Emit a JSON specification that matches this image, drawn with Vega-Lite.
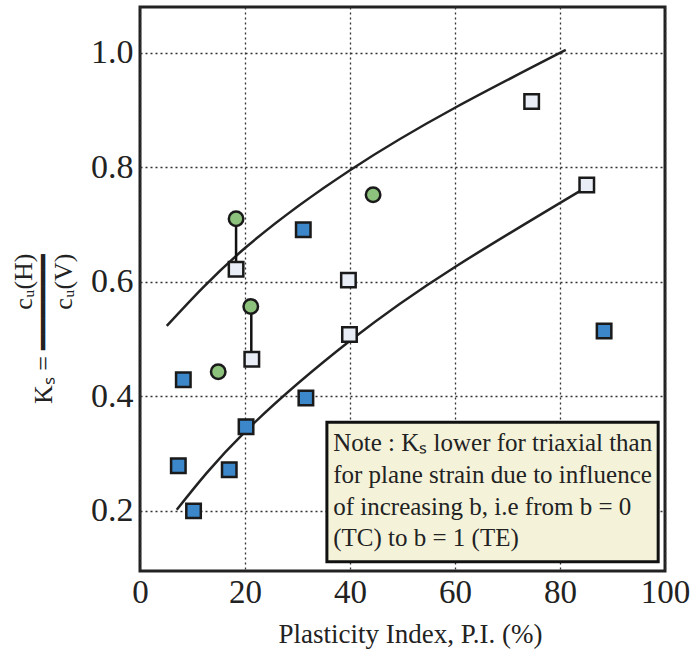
{
  "$schema": "https://vega.github.io/schema/vega-lite/v6.json",
  "autosize": "none",
  "width": 525,
  "height": 564,
  "padding": {"left": 140, "top": 7, "right": 26, "bottom": 82},
  "background": "white",
  "config": {
    "font": "Times New Roman, Liberation Serif, serif",
    "view": {"stroke": "#222222", "strokeWidth": 3},
    "axis": {
      "labelFont": "Times New Roman, Liberation Serif, serif",
      "titleFont": "Times New Roman, Liberation Serif, serif",
      "labelColor": "#222222",
      "titleColor": "#222222",
      "ticks": false,
      "domain": false,
      "grid": true,
      "gridColor": "#333333",
      "gridDash": [2, 3],
      "gridWidth": 1.3,
      "labelFlush": false,
      "labelOverlap": false
    }
  },
  "datasets": {
    "points": [
      {"series": "blue", "pi": 8.25, "ks": 0.429},
      {"series": "blue", "pi": 7.3, "ks": 0.279},
      {"series": "blue", "pi": 10.2, "ks": 0.2},
      {"series": "blue", "pi": 17.0, "ks": 0.272},
      {"series": "blue", "pi": 20.2, "ks": 0.347},
      {"series": "blue", "pi": 31.1, "ks": 0.691},
      {"series": "blue", "pi": 31.6, "ks": 0.397},
      {"series": "blue", "pi": 88.4, "ks": 0.514},
      {"series": "white", "pi": 18.3, "ks": 0.622},
      {"series": "white", "pi": 21.3, "ks": 0.465},
      {"series": "white", "pi": 39.7, "ks": 0.603},
      {"series": "white", "pi": 39.9, "ks": 0.508},
      {"series": "white", "pi": 74.6, "ks": 0.915},
      {"series": "white", "pi": 85.1, "ks": 0.769},
      {"series": "green", "pi": 18.3, "ks": 0.710},
      {"series": "green", "pi": 21.1, "ks": 0.557},
      {"series": "green", "pi": 14.9, "ks": 0.443},
      {"series": "green", "pi": 44.4, "ks": 0.752}
    ],
    "curves": [
      {"curve": "upper", "pi": 5.1, "ks": 0.523},
      {"curve": "upper", "pi": 20, "ks": 0.659},
      {"curve": "upper", "pi": 40, "ks": 0.795},
      {"curve": "upper", "pi": 60, "ks": 0.904},
      {"curve": "upper", "pi": 81.1, "ks": 1.005},
      {"curve": "lower", "pi": 7.0, "ks": 0.202},
      {"curve": "lower", "pi": 20, "ks": 0.338},
      {"curve": "lower", "pi": 40, "ks": 0.497},
      {"curve": "lower", "pi": 60, "ks": 0.626},
      {"curve": "lower", "pi": 85.7, "ks": 0.769}
    ],
    "pairs": [
      {"pi": 18.3, "ks": 0.622, "ks2": 0.710},
      {"pi": 21.2, "ks": 0.465, "ks2": 0.557}
    ],
    "box": [
      {"x1": 35.6, "x2": 98.7, "y1": 0.111, "y2": 0.355}
    ],
    "note": [
      {"pi": 36.8, "ks": 0.319, "text": "Note : Kₛ lower for triaxial than"},
      {"pi": 36.8, "ks": 0.263, "text": "for plane strain due to influence"},
      {"pi": 36.8, "ks": 0.207, "text": "of increasing b, i.e from b = 0"},
      {"pi": 36.8, "ks": 0.153, "text": "(TC) to b = 1 (TE)"}
    ]
  },
  "layer": [
    {
      "data": {"name": "curves"},
      "mark": {"type": "line", "color": "#222222", "strokeWidth": 2.5, "interpolate": "natural"},
      "encoding": {
        "x": {
          "field": "pi", "type": "quantitative",
          "scale": {"domain": [0, 100], "nice": false},
          "axis": {
            "values": [0, 20, 40, 60, 80, 100],
            "labelFontSize": 33,
            "labelPadding": 5,
            "title": "Plasticity Index, P.I. (%)",
            "titleFontSize": 27,
            "titleFontWeight": "normal",
            "titleX": 270,
            "titleY": 63,
            "titleBaseline": "middle"
          }
        },
        "y": {
          "field": "ks", "type": "quantitative",
          "scale": {"domain": [0.095, 1.08], "nice": false, "zero": false},
          "axis": {
            "values": [0.2, 0.4, 0.6, 0.8, 1.0],
            "format": ".1f",
            "labelFontSize": 34,
            "labelPadding": 7,
            "title": ["cᵤ(H)\u00a0\u00a0", "Kₛ = ━━━━━━", "cᵤ(V)\u00a0\u00a0"],
            "titleFontSize": 26,
            "titleLineHeight": 20,
            "titleFontWeight": "normal",
            "titleAngle": -90,
            "titleX": -109,
            "titleY": 246,
            "titleAlign": "right",
            "titleBaseline": "alphabetic"
          }
        },
        "detail": {"field": "curve"}
      }
    },
    {
      "data": {"name": "pairs"},
      "mark": {"type": "rule", "color": "#111111", "strokeWidth": 2.5},
      "encoding": {
        "x": {"field": "pi", "type": "quantitative"},
        "y": {"field": "ks", "type": "quantitative"},
        "y2": {"field": "ks2"}
      }
    },
    {
      "data": {"name": "points"},
      "mark": {"type": "point", "filled": true, "stroke": "#1a1a1a", "strokeWidth": 2.5, "opacity": 1},
      "encoding": {
        "x": {"field": "pi", "type": "quantitative"},
        "y": {"field": "ks", "type": "quantitative"},
        "shape": {
          "field": "series", "type": "nominal",
          "scale": {"domain": ["blue", "white", "green"], "range": ["square", "square", "circle"]},
          "legend": null
        },
        "fill": {
          "field": "series", "type": "nominal",
          "scale": {"domain": ["blue", "white", "green"], "range": ["#3b87c9", "#e9eef6", "#8dc27c"]},
          "legend": null
        },
        "size": {
          "field": "series", "type": "nominal",
          "scale": {"domain": ["blue", "white", "green"], "range": [210, 210, 230]},
          "legend": null
        }
      }
    },
    {
      "data": {"name": "box"},
      "mark": {"type": "rect", "fill": "#f4f3da", "stroke": "#111111", "strokeWidth": 3},
      "encoding": {
        "x": {"field": "x1", "type": "quantitative"},
        "x2": {"field": "x2"},
        "y": {"field": "y1", "type": "quantitative"},
        "y2": {"field": "y2"}
      }
    },
    {
      "data": {"name": "note"},
      "mark": {"type": "text", "align": "left", "baseline": "middle", "fontSize": 25, "font": "Times New Roman, Liberation Serif, serif", "color": "#222222"},
      "encoding": {
        "x": {"field": "pi", "type": "quantitative"},
        "y": {"field": "ks", "type": "quantitative"},
        "text": {"field": "text"}
      }
    }
  ]
}
